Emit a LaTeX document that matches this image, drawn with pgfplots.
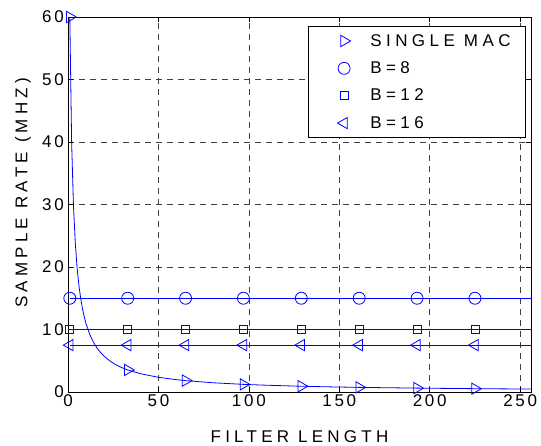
\documentclass[border=0pt]{standalone}
\usepackage{fontspec}
\setmainfont{Liberation Sans}
\newfontfamily\spaced{Liberation Sans}[LetterSpace=26]
\newfontfamily\wide{Liberation Sans}[LetterSpace=25]
\newfontfamily\digits{Liberation Sans}[LetterSpace=16]
\usepackage{pgfplots}
\pgfplotsset{compat=1.18}

\definecolor{mblue}{RGB}{0,0,255}

\begin{document}
\begin{tikzpicture}
\begin{axis}[
  at={(0,0)}, anchor=south west,
  scale only axis,
  width=463pt, height=375pt,
  xmin=0, xmax=256, ymin=0, ymax=60,
  xtick={0,50,...,250}, ytick={0,10,...,60},
  tick align=inside,
  major tick length=5pt,
  tick style={black, line width=0.6pt},
  grid=major,
  major grid style={black!75, dash pattern=on 6pt off 5pt, line width=0.5pt},
  axis line style={black, line width=0.7pt},
  /pgf/number format/assume math mode=true,
  ticklabel style={font=\fontsize{17}{20}\selectfont\digits},
  xticklabel style={inner sep=1pt, yshift=-1pt},
  yticklabel style={inner sep=1pt, xshift=-3pt},
  xlabel={FILTER LENGTH},
  ylabel={SAMPLE RATE (MHZ)},
  label style={font=\fontsize{17}{20}\selectfont\wide},
  xlabel style={at={(axis description cs:0.5,-0.12)}, anchor=center},
  ylabel style={at={(axis description cs:-0.097,0.531)}, anchor=center},
  legend style={at={(rel axis cs:0.989,0.976)}, anchor=north east,
    font=\fontsize{17}{20}\selectfont\spaced, draw=black, line width=0.6pt,
    row sep=10pt, inner xsep=13pt, inner ysep=6pt},
  legend cell align=left,
  legend image code/.code={\path (-22pt,0pt) (24pt,0pt); \draw[#1] plot coordinates {(0pt,0pt)};},
]
% lines
\addplot[mblue, line width=0.8pt, forget plot] coordinates {
(1,60) (2,40) (3,30) (4,24) (5,20) (6,17.14) (7,15) (8,13.33) (9,12) (10,10.91)
(12,9.23) (14,8) (16,7.06) (18,6.32) (20,5.71) (23,5) (26,4.44) (30,3.87) (33,3.53)
(40,2.93) (50,2.35) (60,1.97) (65,1.82) (80,1.48) (97,1.22) (110,1.08) (129,0.92)
(145,0.82) (161,0.74) (193,0.62) (225,0.53) (256,0.47)};
\addplot[mblue, line width=0.8pt, forget plot] coordinates {(1,15) (256,15)};
\addplot[mblue, line width=0.8pt, forget plot] coordinates {(1,10) (256,10)};
\addplot[mblue, line width=0.8pt, forget plot] coordinates {(1,7.5) (256,7.5)};
% markers
\addplot[mblue, only marks, mark=triangle, mark size=6.5pt,
  mark options={draw=mblue, line width=0.8pt, rotate=-90}] coordinates {
(1,60) (33,3.53) (65,1.82) (97,1.22) (129,0.92) (161,0.74) (193,0.62) (225,0.53)};
\addlegendentry{SINGLE MAC}
\addplot[mblue, only marks, mark=o, mark size=6pt,
  mark options={draw=mblue, line width=0.8pt}] coordinates {
(1,15) (33,15) (65,15) (97,15) (129,15) (161,15) (193,15) (225,15)};
\addlegendentry{B=8}
\addplot[mblue, only marks, mark=square, mark size=4pt,
  mark options={draw=mblue, line width=0.8pt}] coordinates {
(1,10) (33,10) (65,10) (97,10) (129,10) (161,10) (193,10) (225,10)};
\addlegendentry{B=12}
\addplot[mblue, only marks, mark=triangle, mark size=6.5pt,
  mark options={draw=mblue, line width=0.8pt, rotate=90}] coordinates {
(1,7.5) (33,7.5) (65,7.5) (97,7.5) (129,7.5) (161,7.5) (193,7.5) (225,7.5)};
\addlegendentry{B=16}
\end{axis}
\pgfresetboundingbox
\path[use as bounding box] (-68pt,-54pt) rectangle (473pt,392pt);
\end{tikzpicture}
\end{document}
